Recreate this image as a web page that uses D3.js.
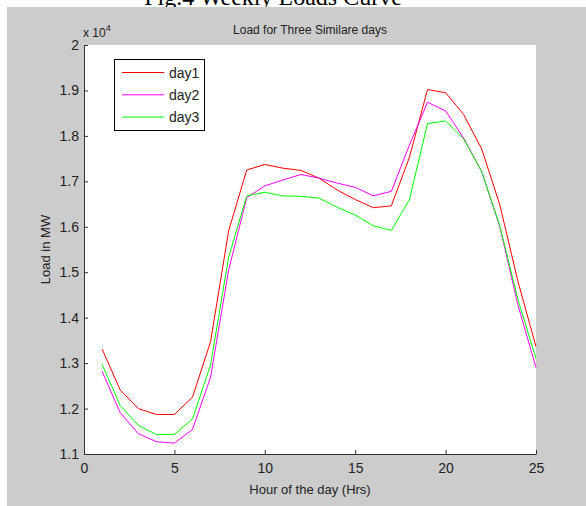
<!DOCTYPE html>
<html><head><meta charset="utf-8">
<script src="https://cdn.jsdelivr.net/npm/d3@7"></script>
<style>html,body{margin:0;padding:0;background:#fff;}svg{display:block;}</style>
</head><body>
<svg id="c" width="586" height="506"></svg>
<script>
const hours = d3.range(1, 26);
const day1 = [13310,12410,12000,11870,11870,12250,13470,15910,17250,17370,17290,17240,17070,16810,16600,16420,16460,17530,19020,18950,18470,17710,16480,14800,13360];
const day2 = [12820,11910,11450,11270,11240,11540,12690,15050,16640,16900,17030,17150,17070,16960,16870,16680,16780,17800,18740,18550,17950,17210,16000,14280,12900];
const day3 = [12970,12070,11630,11430,11430,11770,12960,15330,16680,16760,16680,16670,16630,16430,16260,16020,15920,16600,18270,18330,17930,17210,16020,14400,13100];
const seriesNames = ["day1","day2","day3"];
const seriesColors = ["#ff0000","#ff00ff","#00ff00"];
const xTicks = [0,5,10,15,20,25];
const yTicks = [11000,12000,13000,14000,15000,16000,17000,18000,19000,20000];
const figTitle = "Fig.4 Weekly Loads Curve";
const chartTitle = "Load for Three Similare days";
const xLabel = "Hour of the day (Hrs)";
const yLabel = "Load in MW";

const svg = d3.select("#c");
const font = "'Liberation Sans', Arial, Helvetica, sans-serif";
const L = 84, R = 536, T = 45, B = 454;

svg.append("rect").attr("x",0).attr("y",0).attr("width",586).attr("height",506).attr("fill","#fff");
svg.append("text").attr("x",273).attr("y",5).attr("text-anchor","middle")
  .attr("font-family","'Liberation Serif','Times New Roman',serif").attr("font-size",24).attr("fill","#000").text(figTitle);
svg.append("rect").attr("x",7).attr("y",7).attr("width",579).attr("height",499).attr("fill","#cccccc");
svg.append("rect").attr("x",L).attr("y",T).attr("width",R-L).attr("height",B-T).attr("fill","#fff");

const x = d3.scaleLinear().domain([0,25]).range([L,R]);
const y = d3.scaleLinear().domain([11000,20000]).range([B,T]);

const xAxis = svg.append("g").attr("transform",`translate(0,${B})`)
  .call(d3.axisBottom(x).tickValues(xTicks).tickSizeInner(-4).tickSizeOuter(0).tickPadding(9).tickFormat(d3.format("d")));
const yAxis = svg.append("g").attr("transform",`translate(${L},0)`)
  .call(d3.axisLeft(y).tickValues(yTicks).tickSizeInner(-4).tickSizeOuter(0).tickPadding(5).tickFormat(d => d3.format("")(+(d/10000).toFixed(1))));
[xAxis,yAxis].forEach(a => {
  a.selectAll("path").attr("stroke","#333").attr("stroke-width",1);
  a.selectAll("line").attr("stroke","#333");
  a.selectAll("text").attr("font-family",font).attr("font-size",14).attr("fill","#222");
});

const line = d3.line().x((d,i) => x(hours[i])).y(d => y(d));
[day1,day2,day3].forEach((s,k) => {
  svg.append("path").datum(s).attr("d",line).attr("fill","none")
    .attr("stroke",seriesColors[k]).attr("stroke-width",1);
});

// exponent label
const ex = svg.append("text").attr("x",83).attr("y",37).attr("font-family",font).attr("font-size",12).attr("fill","#222");
ex.append("tspan").text("x 10");
ex.append("tspan").attr("dy",-6).attr("font-size",9).text("4");

svg.append("text").attr("x",(L+R)/2).attr("y",34).attr("text-anchor","middle")
  .attr("font-family",font).attr("font-size",12).attr("fill","#222").text(chartTitle);
svg.append("text").attr("x",(L+R)/2).attr("y",494).attr("text-anchor","middle")
  .attr("font-family",font).attr("font-size",13).attr("fill","#222").text(xLabel);
svg.append("text").attr("transform",`translate(50,${(T+B)/2}) rotate(-90)`).attr("text-anchor","middle")
  .attr("font-family",font).attr("font-size",13).attr("fill","#222").text(yLabel);

// legend
const lg = svg.append("g");
lg.append("rect").attr("x",114.5).attr("y",59.5).attr("width",90).attr("height",71)
  .attr("fill","#fff").attr("stroke","#000").attr("stroke-width",1);
seriesNames.forEach((n,k) => {
  const yy = 72.5 + k*22.3;
  lg.append("line").attr("x1",122).attr("x2",164).attr("y1",yy).attr("y2",yy)
    .attr("stroke",seriesColors[k]).attr("stroke-width",1);
  lg.append("text").attr("x",169).attr("y",yy+5).attr("font-family",font).attr("font-size",14)
    .attr("fill","#222").text(n);
});
</script>
</body></html>
